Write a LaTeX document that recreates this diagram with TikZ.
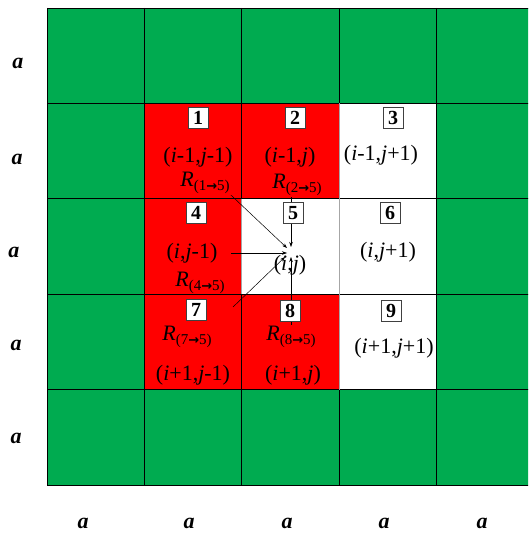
\documentclass[tikz,border=0pt]{standalone}
\usepackage{fontspec}
\setmainfont{Liberation Serif}
\newfontfamily\arrowfont{DejaVu Sans}
\usepackage{tikz}
\usetikzlibrary{arrows.meta}
\definecolor{cellgreen}{RGB}{0,171,80}
\definecolor{cellred}{RGB}{255,0,0}
\newcommand{\rflow}[1]{\textit{R}\raisebox{-0.4ex}{\fontsize{15}{15}\selectfont(#1{\arrowfont\bfseries\fontsize{13}{13}\selectfont →}5)}}

\begin{document}
\begin{tikzpicture}[x=1pt, y=-1pt,
  gridline/.style={draw=black, line width=0.6pt},
  numbox/.style={draw=black!75, fill=white, line width=0.6pt, font=\fontsize{20}{20}\selectfont\bfseries, inner sep=1pt, minimum width=20pt, minimum height=21pt},
  cellpos/.style={font=\fontsize{22}{22}\selectfont, inner sep=1pt},
  flowlab/.style={font=\fontsize{22}{22}\selectfont, inner sep=1pt},
  side/.style={font=\fontsize{22}{22}\selectfont\bfseries\itshape, inner sep=0pt},
  flow/.style={-{Stealth[length=5pt,width=3.5pt]}, line width=0.5pt},
]
\clip (0,0) rectangle (528,534);
\fill[white] (0,0) rectangle (528,534);
% cells
\fill[cellgreen] (47,8) rectangle (534,485);
\fill[cellred] (144.3,103.4) rectangle (339,389.6);
\fill[white] (241.6,198.8) rectangle (339,294.2);
\fill[white] (339,103.4) rectangle (436.3,389.6);
\foreach \x in {47,144.3,241.6,339,436.3}
  \draw[gridline] (\x,8) -- (\x,485);
\foreach \y in {8,103.4,198.8,294.2,389.6,485}
  \draw[gridline] (47,\y) -- (534,\y);
\draw[gray!70, line width=0.6pt] (339,103.4) -- (339,389.6);
\draw[gray!70, line width=0.6pt] (241.6,198.8) -- (241.6,294.2);

% cell labels
\node[cellpos] (c1) at (198,157) {(\textit{i}-1,\textit{j}-1)};
\node[cellpos] (c2) at (290,157) {(\textit{i}-1,\textit{j})};
\node[cellpos] (c3) at (381,155) {(\textit{i}-1,\textit{j}+1)};
\node[cellpos] (c4) at (192,253) {(\textit{i},\textit{j}-1)};
\node[cellpos] (c5) at (290,265) {(\textit{i},\textit{j})};
\node[cellpos] (c6) at (388,252) {(\textit{i},\textit{j}+1)};
\node[cellpos] (c7) at (193,375) {(\textit{i}+1,\textit{j}-1)};
\node[cellpos] (c8) at (293,375) {(\textit{i}+1,\textit{j})};
\node[cellpos] (c9) at (394,348) {(\textit{i}+1,\textit{j}+1)};

\node[flowlab] (r15) at (205,183) {\rflow{1}};
\node[flowlab] (r25) at (297,185) {\rflow{2}};
\node[flowlab] (r45) at (200,283) {\rflow{4}};
\node[flowlab] (r75) at (187,337) {\rflow{7}};
\node[flowlab] (r85) at (291,337) {\rflow{8}};

% flows into cell 5
\coordinate (t1) at (287,248);
\coordinate (t2) at (291,247);
\coordinate (t4) at (287,253);
\coordinate (t7) at (285,257);
\coordinate (t8) at (291,257);
\coordinate (s4) at (231,253);
\coordinate (s7) at (233,307);
\draw[flow] (r15.south east) -- (t1);
\draw[flow] (r25.south -| t2) -- (t2);
\draw[flow] (s4) -- (t4);
\draw[flow] (s7) -- (t7);
\draw[flow] (r85.north -| t8) -- (t8);

% numbers
\node[numbox] (n1) at (198,118) {1};
\node[numbox] (n2) at (295,118) {2};
\node[numbox] (n3) at (393,118) {3};
\node[numbox] (n4) at (196,213) {4};
\node[numbox] (n5) at (293,213) {5};
\node[numbox] (n6) at (390,213) {6};
\node[numbox] (n7) at (196,310) {7};
\node[numbox] (n8) at (290,311) {8};
\node[numbox] (n9) at (391,311) {9};

% side lengths
\foreach \y/\x [count=\k] in {63/18,159/17,252/14,345/16,438/16}
  \node[side] (left\k) at (\x,\y) {a};
\foreach \x [count=\k] in {83,189,287,384,482}
  \node[side] (bottom\k) at (\x,523) {a};
\end{tikzpicture}
\end{document}
